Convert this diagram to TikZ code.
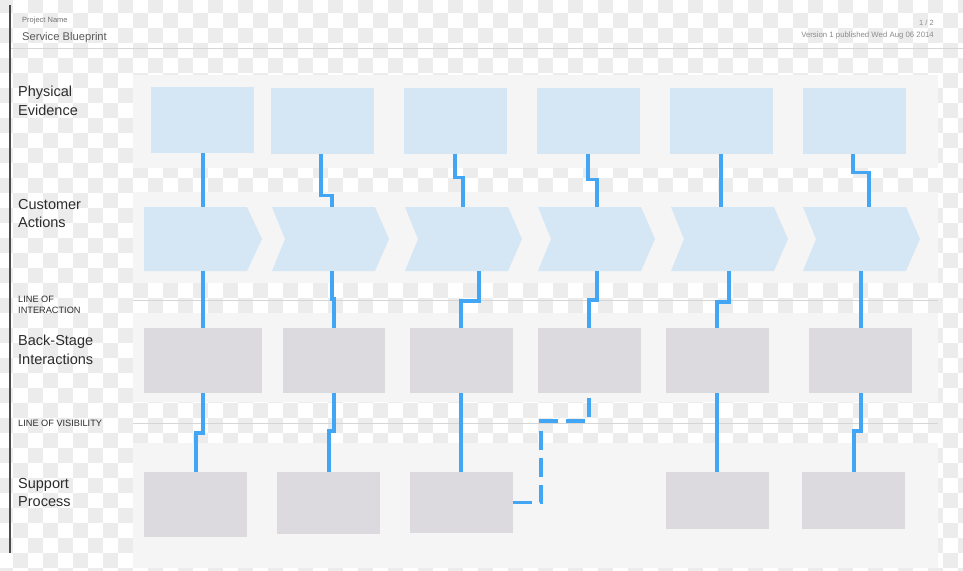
\documentclass[tikz,border=0pt]{standalone}
\usepackage{fontspec}
\setmainfont{Liberation Sans}
\usetikzlibrary{calc}
\definecolor{chk}{HTML}{ECECEC}
\definecolor{band}{HTML}{F5F5F5}
\definecolor{peblue}{HTML}{D5E6F5}
\definecolor{boxgray}{HTML}{DCDADF}
\definecolor{connblue}{HTML}{42A6F5}
\definecolor{labeltext}{HTML}{2C2C2C}
\definecolor{sepline}{HTML}{D6D6D6}
\tikzset{
  pebox/.style={fill=peblue, draw=none, inner sep=0pt, outer sep=0pt, minimum width=103pt, minimum height=66pt},
  cabox/.style={draw=none, inner sep=0pt, outer sep=0pt, minimum width=103pt, minimum height=64pt},
  chev/.style={fill=peblue, draw=none},
  graybox/.style={fill=boxgray, draw=none, inner sep=0pt, outer sep=0pt, minimum width=103pt},
  conn/.style={draw=connblue, line width=3.2pt, line cap=butt, line join=miter},
  dconn/.style={conn, dash pattern=on 19pt off 8pt},
  lanelabel/.style={anchor=north west, inner sep=0pt, align=left, text=labeltext, font=\fontsize{14.5}{18.5}\selectfont},
  linelabel/.style={anchor=north west, inner sep=0pt, align=left, text=labeltext, font=\fontsize{9.2}{11}\selectfont},
  laneband/.style={fill=band, draw=none},
  divline/.style={draw=sepline, line width=1pt}
}
\begin{document}
\begin{tikzpicture}[x=1pt,y=-1pt]
\useasboundingbox (0,0) rectangle (963,570);
\fill[white] (0,0) rectangle (963,570);
% checkerboard background
\foreach \i in {0,...,32}{
  \foreach \j [evaluate=\j as \off using {mod(\j,2)*15}] in {0,...,38}{
    \fill[chk] ({30*\i-2+\off},{15*\j-2}) rectangle ++(15,15);
  }
}
% header
\draw[divline] (10,48) -- (963,48);
\draw[draw=black!70, line width=2pt] (10,5) -- (10,553);
\node[anchor=base west, inner sep=0pt, text=black!55, font=\fontsize{7.5}{9}\selectfont] (projname) at (22,22) {Project Name};
\node[anchor=base west, inner sep=0pt, text=black!65, font=\fontsize{11.2}{13}\selectfont] (title) at (22,40) {Service Blueprint};
\node[anchor=base east, inner sep=0pt, text=black!45, font=\fontsize{7.5}{9}\selectfont] (page) at (934,25) {1 / 2};
\node[anchor=base east, inner sep=0pt, text=black!45, font=\fontsize{7.8}{9}\selectfont] (version) at (934,37) {Version 1 published Wed Aug 06 2014};
% lane bands
\fill[laneband] (133,75) rectangle (938,168);
\fill[laneband] (133,192) rectangle (938,283);
\fill[laneband] (133,313) rectangle (938,402);
\fill[laneband] (133,443) rectangle (938,568);
\draw[divline] (133,300) -- (938,300);
\draw[divline] (133,423) -- (938,423);
% labels
\node[lanelabel] (lpe) at (18,86) {Physical\\Evidence};
\node[lanelabel] (lca) at (18,199) {Customer\\Actions};
\node[linelabel] (lloi) at (18,296) {LINE OF\\INTERACTION};
\node[lanelabel] (lbs) at (18,335) {Back-Stage\\Interactions};
\node[linelabel] (llov) at (18,420) {LINE OF VISIBILITY};
\node[lanelabel] (lsp) at (18,478) {Support\\Process};
% physical evidence
\node[pebox] (pe1) at (202.5,120) {};
\node[pebox] (pe2) at (322.5,120.5) {};
\node[pebox] (pe3) at (455,120.5) {};
\node[pebox] (pe4) at (588,120.5) {};
\node[pebox] (pe5) at (721,120.5) {};
\node[pebox] (pe6) at (854,120.5) {};
% customer actions (chevrons)
\node[cabox] (ca1) at (195.5,239) {};
\node[cabox] (ca2) at (323.5,239) {};
\node[cabox] (ca3) at (456.5,239) {};
\node[cabox] (ca4) at (589.5,239) {};
\node[cabox] (ca5) at (722.5,239) {};
\node[cabox] (ca6) at (854.5,239) {};
\fill[chev] (ca1.north west) -- (ca1.north east) -- ($(ca1.east)+(15,0)$) -- (ca1.south east) -- (ca1.south west) -- cycle;
\foreach \c in {ca2,ca3,ca4,ca5,ca6}{
  \fill[chev] (\c.north west) -- (\c.north east) -- ($(\c.east)+(14,0)$) -- (\c.south east) -- (\c.south west) -- ($(\c.west)+(13,0)$) -- cycle;
}
% back-stage
\node[graybox, minimum width=118pt, minimum height=65pt] (bs1) at (203,360.5) {};
\node[graybox, minimum width=102pt, minimum height=65pt] (bs2) at (334,360.5) {};
\node[graybox, minimum height=65pt] (bs3) at (461.5,360.5) {};
\node[graybox, minimum height=65pt] (bs4) at (589.5,360.5) {};
\node[graybox, minimum height=65pt] (bs5) at (717.5,360.5) {};
\node[graybox, minimum height=65pt] (bs6) at (860.5,360.5) {};
% support
\node[graybox, minimum height=65pt] (sp1) at (195.5,504.5) {};
\node[graybox, minimum height=62pt] (sp2) at (328.5,503) {};
\node[graybox, minimum height=61pt] (sp3) at (461.5,502.5) {};
\node[graybox, minimum height=57pt] (sp5) at (717.5,500.5) {};
\node[graybox, minimum height=57pt] (sp6) at (853.5,500.5) {};
% connectors PE -> CA
\draw[conn] ($(pe1.south)+(0.5,0)$) -- ($(ca1.north)+(7.5,0)$);
\draw[conn] ($(pe2.south)+(-1.5,0)$) -- ++(0,42) -- ++(11,0) -- ($(ca2.north)+(8.5,0)$);
\draw[conn] ($(pe3.south)+(0,0)$) -- ++(0,24) -- ++(8,0) -- ($(ca3.north)+(6.5,0)$);
\draw[conn] ($(pe4.south)+(0,0)$) -- ++(0,26) -- ++(9,0) -- ($(ca4.north)+(7.5,0)$);
\draw[conn] ($(pe5.south)+(0,0)$) -- ($(ca5.north)+(-1.5,0)$);
\draw[conn] ($(pe6.south)+(-1,0)$) -- ++(0,19) -- ++(16,0) -- ($(ca6.north)+(14.5,0)$);
% connectors CA -> BS
\draw[conn] ($(ca1.south)+(7.5,0)$) -- ($(bs1.north)+(0,0)$);
\draw[conn] ($(ca2.south)+(8.5,0)$) -- ++(0,28) -- ++(2,0) -- ($(bs2.north)+(0,0)$);
\draw[conn] ($(ca3.south)+(22.5,0)$) -- ++(0,30) -- ++(-18,0) -- ($(bs3.north)+(-0.5,0)$);
\draw[conn] ($(ca4.south)+(7.5,0)$) -- ++(0,29) -- ++(-8,0) -- ($(bs4.north)+(-0.5,0)$);
\draw[conn] ($(ca5.south)+(6.5,0)$) -- ++(0,31) -- ++(-12,0) -- ($(bs5.north)+(-0.5,0)$);
\draw[conn] ($(ca6.south)+(6.5,0)$) -- ($(bs6.north)+(0.5,0)$);
% connectors BS -> SP
\draw[conn] ($(bs1.south)+(0,0)$) -- ++(0,40) -- ++(-7,0) -- ($(sp1.north)+(0.5,0)$);
\draw[conn] ($(bs2.south)+(0,0)$) -- ++(0,38) -- ++(-5,0) -- ($(sp2.north)+(0.5,0)$);
\draw[conn] ($(bs3.south)+(-0.5,0)$) -- ($(sp3.north)+(-0.5,0)$);
\draw[dconn] ($(bs4.south)+(-0.5,5)$) -- ++(0,23) -- ++(-48,0) |- (sp3.east);
\draw[conn] ($(bs5.south)+(-0.5,0)$) -- ($(sp5.north)+(-0.5,0)$);
\draw[conn] ($(bs6.south)+(0.5,0)$) -- ++(0,38) -- ++(-7,0) -- ($(sp6.north)+(0.5,0)$);
\end{tikzpicture}
\end{document}
